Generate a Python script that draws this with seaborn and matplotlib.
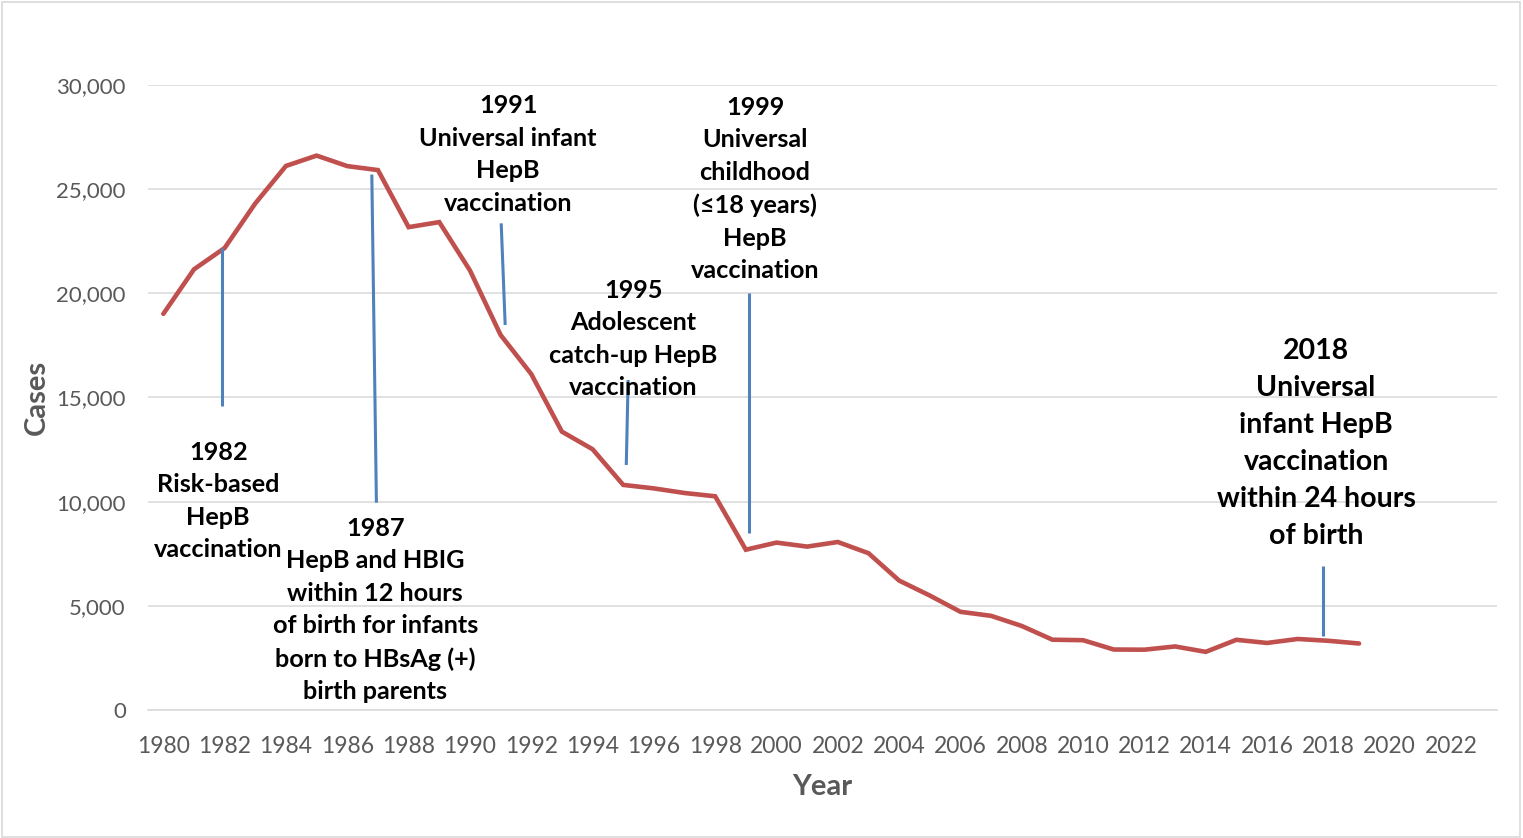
import matplotlib
matplotlib.use("Agg")
import matplotlib.pyplot as plt
import matplotlib.patches as mpatches
import numpy as np
import pandas as pd
import seaborn as sns

# Reported acute hepatitis B cases by year
years = list(range(1980, 2020))
cases = [19015, 21152, 22177, 24318, 26115, 26611, 26107, 25916, 23177, 23419,
         21102, 18003, 16126, 13361, 12517, 10805, 10637, 10416, 10258, 7694,
         8036, 7843, 8064, 7526, 6212, 5494, 4713, 4519, 4033, 3374,
         3350, 2903, 2895, 3050, 2791, 3370, 3218, 3409, 3322, 3192]

# Vaccination policy milestones
event_labels = [
    "1982\nRisk-based\nHepB\nvaccination",
    "1987\nHepB and HBIG\nwithin 12 hours\nof birth for infants\nborn to HBsAg (+)\nbirth parents",
    "1991\nUniversal infant\nHepB\nvaccination",
    "1995\nAdolescent\ncatch-up HepB\nvaccination",
    "1999\nUniversal\nchildhood\n(\u226418 years)\nHepB\nvaccination",
    "2018\nUniversal\ninfant HepB\nvaccination\nwithin 24 hours\nof birth",
]
# label anchor (year, cases) for each milestone text block
label_x = [1981.79, 1986.91, 1991.25, 1995.33, 1999.30, 2017.60]
label_y = [10030, 4800, 26664, 17808, 25008, 12792]
label_size = [18.2, 18.2, 18.2, 18.2, 18.2, 20.5]
label_spacing = [1.50, 1.50, 1.50, 1.50, 1.50, 1.52]
# leader line ends (year, cases) for each milestone
lead_x0 = [1981.92, 1986.80, 1991.02, 1995.16, 1999.10, 2017.83]
lead_x1 = [1981.92, 1986.95, 1991.15, 1995.10, 1999.10, 2017.83]
lead_y0 = [22177, 25700, 23360, 15840, 20000, 6910]
lead_y1 = [14600, 9950, 18480, 11760, 8500, 3550]

tick_years = list(range(1980, 2023, 2))
y_ticks = [0, 5000, 10000, 15000, 20000, 25000, 30000]

sns.set_style("white")
plt.rcParams["font.family"] = ["Lato", "DejaVu Sans"]

GRID = "#d9d9d9"
TEXT_GRAY = "#595959"
RED = "#c0504d"
BLUE = "#4f81bd"

fig = plt.figure(figsize=(15.23, 8.38), dpi=100)
ax = fig.add_axes([148 / 1523, 1 - 710 / 838, (1497 - 148) / 1523, (710 - 85) / 838])

df = pd.DataFrame({"Year": years, "Cases": cases})
sns.lineplot(data=df, x="Year", y="Cases", ax=ax, color=RED, linewidth=3.3,
             solid_joinstyle="miter", zorder=3)

for x0, x1, y0, y1 in zip(lead_x0, lead_x1, lead_y0, lead_y1):
    ax.plot([x0, x1], [y0, y1], color=BLUE, linewidth=2.2, zorder=4,
            solid_capstyle="butt")

for txt, x, y, s, ls in zip(event_labels, label_x, label_y, label_size, label_spacing):
    ax.text(x, y, txt, ha="center", va="center", multialignment="center",
            fontsize=s, fontweight="bold", color="black", linespacing=ls,
            zorder=5)

ax.set_xlim(1979.5, 2023.5)
ax.set_ylim(0, 30000)
ax.set_xticks(tick_years)
ax.set_xticklabels([str(t) for t in tick_years])
ax.set_yticks(y_ticks)
ax.set_yticklabels([f"{v:,}" for v in y_ticks])
ax.tick_params(axis="both", length=0, labelsize=16.5, labelcolor=TEXT_GRAY)
ax.tick_params(axis="x", pad=19)
ax.tick_params(axis="y", pad=16, labelsize=16)
ax.grid(axis="y", color=GRID, linewidth=1.1)
ax.grid(axis="x", visible=False)
for side in ["left", "right", "top"]:
    ax.spines[side].set_visible(False)
ax.spines["bottom"].set_color(GRID)
ax.spines["bottom"].set_linewidth(1.1)

ax.set_xlabel("Year", fontsize=21, fontweight="bold", color=TEXT_GRAY)
ax.set_ylabel("Cases", fontsize=21, fontweight="bold", color=TEXT_GRAY)
ax.xaxis.set_label_coords(0.5, -(787 - 710) / 625, transform=ax.transAxes)
ax.xaxis.label.set_verticalalignment("center")
ax.yaxis.set_label_coords(-(148 - 37) / 1349, 0.5, transform=ax.transAxes)
ax.yaxis.label.set_verticalalignment("center")

# outer chart frame
fig.patches.append(mpatches.Rectangle((2 / 1523, 1 / 838), 1518 / 1523, 835 / 838,
                                      transform=fig.transFigure, fill=False,
                                      edgecolor=GRID, linewidth=1.2))

fig.savefig("out.png", dpi=100)
